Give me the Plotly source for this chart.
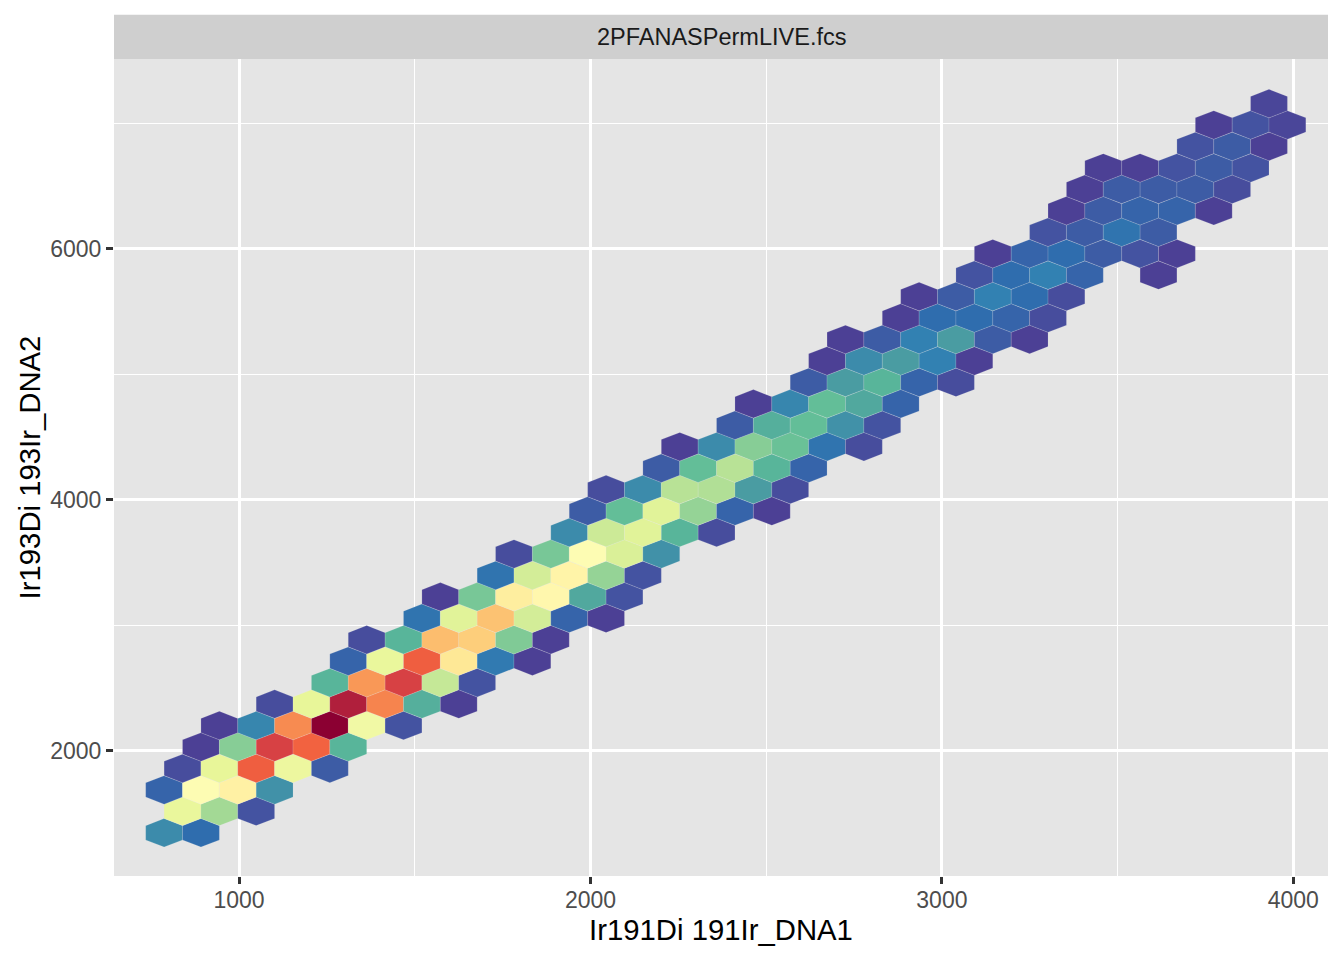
import numpy as np
import plotly.graph_objects as go
from plotly.colors import sample_colorscale

# hex grid of the binned data (data units)
X_ORIGIN = 786.8     # centre of column 0 in even rows
Y_ORIGIN = 1348.1    # centre of row 0
BIN_W = 104.8        # centre-to-centre distance inside a row
ROW_H = 170.8        # distance between rows

X_RANGE = [644.2, 4098.7]
Y_RANGE = [1004, 7510]
X_TICKS = [1000, 2000, 3000, 4000]
Y_TICKS = [2000, 4000, 6000]
X_MINOR = [1500, 2500, 3500]
Y_MINOR = [3000, 5000, 7000]

X_TITLE = "Ir191Di 191Ir_DNA1"
Y_TITLE = "Ir193Di 193Ir_DNA2"
PANEL_LABEL = "2PFANASPermLIVE.fcs"

# first occupied column of every hex row, row 0 at the bottom
ROW_START = [0, 0, 0, 0, 1, 1, 3, 4, 5, 5, 7, 7, 9, 9, 11, 11, 12, 13,
             14, 15, 16, 17, 18, 18, 20, 20, 22, 22, 24, 24, 25, 25, 28, 28, 30]

# relative cell density (0-100) of the hexes along each row, None = empty bin
ROW_DENSITY = [
    [12, 7],
    [41, 30, 4],
    [6, 49, 54, 13],
    [3, 40, 81, 42, 5],
    [1, 26, 89, 80, 19],
    [1, 11, 74, 100, 44, 4],
    [3, 40, 95, 75, 18, 1],
    [19, 72, 89, 35, 4],
    [6, 41, 81, 57, 9, 1],
    [3, 19, 66, 63, 25, 1],
    [8, 39, 65, 37, 6, 1],
    [1, 24, 55, 52, 17, 4],
    [8, 37, 53, 28, 4],
    [3, 24, 49, 38, 13],
    [12, 36, 39, 19, 3],
    [5, 21, 39, 28, 6, 1],
    [3, 12, 33, 32, 15, 3],
    [5, 21, 33, 19, 6],
    [1, 12, 26, 22, 8, 3],
    [5, 18, 21, 13, 4],
    [1, 11, 21, 17, 6],
    [5, 15, 19, 6, 3],
    [1, 12, 15, 10, 1],
    [1, 5, 10, 15, 5, 1],
    [1, 7, 7, 6, 3],
    [1, 5, 10, 7, 3],
    [4, 7, 10, 6, None, 1],
    [1, 6, 7, 5, 4, 1],
    [4, 5, 8, 5],
    [1, 5, 6, 6, 1],
    [1, 5, 5, 5, 3],
    [1, 1, 4, 5, 4],
    [4, 5, 1],
    [1, 4, 2],
    [2],
]

# reversed Spectral, as it appears in the reference
SPECTRAL_R = [
    [0.00, "#4F3A91"], [0.04, "#4453A1"], [0.07, "#2F6DAE"],
    [0.10, "#3281B2"], [0.14, "#4696A4"], [0.20, "#5CBB98"],
    [0.30, "#A3D995"], [0.40, "#E8F699"], [0.50, "#FFFDB6"],
    [0.60, "#FEDF88"], [0.70, "#FBA65D"], [0.80, "#F26240"],
    [0.90, "#D43D45"], [1.00, "#8B0032"],
]

FONT = "Liberation Sans, Arial, Helvetica, sans-serif"

# the page puts the figure 8px in from the top left corner
PAGE_OFFSET = 8
MARGIN = dict(l=114 - PAGE_OFFSET, r=16 + PAGE_OFFSET,
              t=59 - PAGE_OFFSET, b=84 + PAGE_OFFSET)


def hex_outline(cx, cy):
    # same vertex layout as ggplot2's hexGrob
    hw = BIN_W / 2
    hh = ROW_H / np.sqrt(3) / 2 * 1.15
    xs = cx + np.array([hw, 0, -hw, -hw, 0, hw, hw])
    ys = cy + np.array([hh, 2 * hh, hh, -hh, -2 * hh, -hh, hh])
    return xs, ys


fig = go.Figure()

for r, (start, dens) in enumerate(zip(ROW_START, ROW_DENSITY)):
    shift = 0.5 if r % 2 else 0.0
    for k, d in enumerate(dens):
        if d is None:
            continue
        cx = X_ORIGIN + (start + k + shift) * BIN_W
        cy = Y_ORIGIN + r * ROW_H
        xs, ys = hex_outline(cx, cy)
        col = sample_colorscale(SPECTRAL_R, [d / 100])[0]
        fig.add_trace(go.Scatter(
            x=xs, y=ys, mode="lines", fill="toself",
            fillcolor=col,
            line=dict(color="rgba(235,235,235,0.25)", width=0.6),
            hovertemplate=f"x {cx:.0f}<br>y {cy:.0f}<br>density {d}<extra></extra>",
            showlegend=False,
        ))

axis_common = dict(
    showgrid=True, gridcolor="white", gridwidth=2.8,
    zeroline=False, showline=False,
    ticks="outside", ticklen=7, tickwidth=2.8, tickcolor="#333333",
    tickfont=dict(family=FONT, size=23, color="#4D4D4D"),
)

fig.update_xaxes(
    range=X_RANGE, tickvals=X_TICKS, ticklabelstandoff=-4,
    minor=dict(tickvals=X_MINOR, showgrid=True, gridcolor="white", gridwidth=1.4, ticks=""),
    title=dict(text=X_TITLE, font=dict(family=FONT, size=29.3, color="black"), standoff=3),
    **axis_common,
)
fig.update_yaxes(
    range=Y_RANGE, tickvals=Y_TICKS,
    minor=dict(tickvals=Y_MINOR, showgrid=True, gridcolor="white", gridwidth=1.4, ticks=""),
    title=dict(text=Y_TITLE, font=dict(family=FONT, size=29.3, color="black"), standoff=0),
    **axis_common,
)

# facet strip above the panel
strip_h = 44.3 / (960 - MARGIN["t"] - MARGIN["b"])
fig.add_shape(type="rect", xref="paper", yref="paper",
              x0=0, x1=1, y0=1, y1=1 + strip_h,
              fillcolor="#CFCFCF", line=dict(width=0), layer="below")
fig.add_annotation(text=PANEL_LABEL, xref="paper", yref="paper",
                   x=0.5, y=1 + strip_h / 2, showarrow=False,
                   xanchor="center", yanchor="middle",
                   font=dict(family=FONT, size=23.5, color="#1A1A1A"))

fig.update_layout(
    width=1344, height=960,
    margin=dict(MARGIN, autoexpand=False),
    plot_bgcolor="#E5E5E5", paper_bgcolor="white",
    font=dict(family=FONT),
    showlegend=False,
)

fig.write_html("out.html")
